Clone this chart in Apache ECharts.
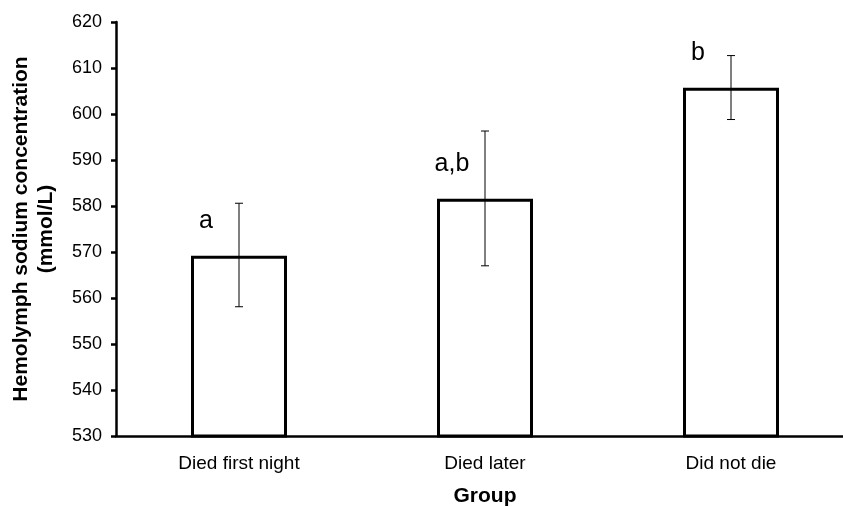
<!DOCTYPE html>
<html>
<head>
<meta charset="utf-8">
<script src="https://cdn.jsdelivr.net/npm/echarts@6/dist/echarts.min.js"></script>
<style>
  html, body { margin: 0; padding: 0; background: #fff; }
  #chart { width: 843px; height: 507px; }
</style>
</head>
<body>
<div id="chart"></div>
<script>
// groups and hemolymph sodium means (mmol/L)
var groups = ['Died first night', 'Died later', 'Did not die'];
var sodiumMean = [569.2, 581.6, 605.7];
var errLow = [558.1, 567.0, 598.8];
var errHigh = [580.6, 596.3, 612.7];
var sigLetters = ['a', 'a,b', 'b'];

var chart = echarts.init(document.getElementById('chart'));
var font = 'Liberation Sans, Arial, sans-serif';

var errData = groups.map(function (g, i) {
	return [i, errLow[i], errHigh[i], sodiumMean[i]];
});

var option = {
	backgroundColor: '#fff',
	animation: false,
	grid: {
		left: 116,
		right: -11,
		top: 22,
		bottom: 71,
		outerBoundsMode: 'none',
		containLabel: false
	},
	xAxis: {
		type: 'category',
		data: groups,
		name: 'Group',
		nameLocation: 'middle',
		nameGap: 50,
		nameTextStyle: { color: '#000', fontFamily: font, fontSize: 21, fontWeight: 'bold' },
		axisLine: { lineStyle: { color: '#000', width: 2.5 } },
		axisTick: { inside: true, length: 6, lineStyle: { color: '#000', width: 2.5 } },
		axisLabel: { color: '#000', fontFamily: font, fontSize: 19, margin: 18 }
	},
	yAxis: {
		type: 'value',
		min: 530,
		max: 620,
		interval: 10,
		name: 'Hemolymph sodium concentration\n(mmol/L)',
		nameLocation: 'middle',
		nameRotate: 90,
		nameGap: 57,
		nameTextStyle: { color: '#000', fontFamily: font, fontSize: 21, fontWeight: 'bold', lineHeight: 25 },
		axisLine: { show: true, lineStyle: { color: '#000', width: 2.5 } },
		axisTick: { show: true, length: 5, lineStyle: { color: '#000', width: 2.5 } },
		axisLabel: { color: '#000', fontFamily: font, fontSize: 18, margin: 14 },
		splitLine: { show: false }
	},
	series: [
		{
			type: 'bar',
			data: sodiumMean,
			barWidth: 96,
			itemStyle: { color: '#fff', borderColor: '#000', borderWidth: 3 },
			z: 2
		},
		{
			type: 'custom',
			data: errData,
			z: 3,
			renderItem: function (params, api) {
				var i = api.value(0);
				var lo = api.coord([i, api.value(1)]);
				var hi = api.coord([i, api.value(2)]);
				var top = api.coord([i, api.value(3)]);
				var cap = 4;
				var st = { stroke: '#000', lineWidth: 1 };
				return {
					type: 'group',
					children: [
						{ type: 'line', shape: { x1: hi[0], y1: hi[1], x2: lo[0], y2: lo[1] }, style: st },
						{ type: 'line', shape: { x1: hi[0] - cap, y1: hi[1], x2: hi[0] + cap, y2: hi[1] }, style: st },
						{ type: 'line', shape: { x1: lo[0] - cap, y1: lo[1], x2: lo[0] + cap, y2: lo[1] }, style: st },
						{
							type: 'text',
							x: top[0] - 33,
							y: top[1] - 35,
							style: {
								text: sigLetters[params.dataIndex],
								fill: '#000',
								font: '25px ' + font,
								align: 'center',
								verticalAlign: 'middle'
							}
						}
					]
				};
			}
		}
	]
};

chart.setOption(option);
</script>
</body>
</html>
